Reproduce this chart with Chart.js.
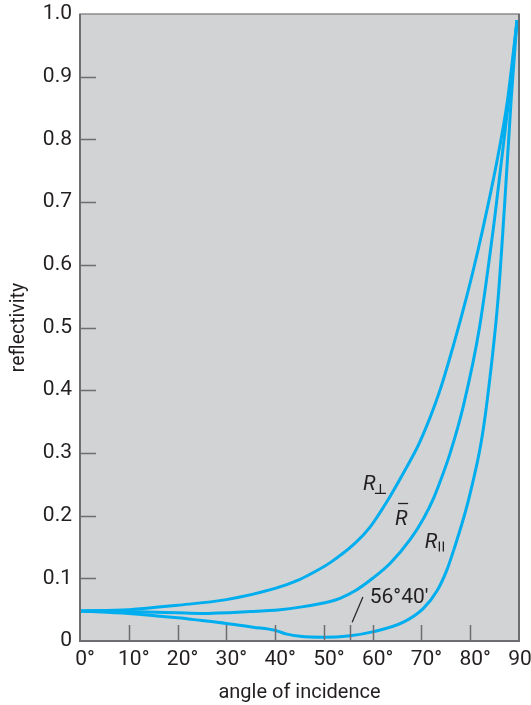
<!DOCTYPE html>
<html>
<head>
<meta charset="utf-8">
<script src="https://cdn.jsdelivr.net/npm/chart.js@4.4.0/dist/chart.umd.min.js"></script>
<style>
  html, body { margin: 0; padding: 0; background: #fff; }
</style>
</head>
<body>
<canvas id="reflChart" width="531" height="705"></canvas>
<script>
// values (angle in degrees, reflectivity 0..1)
const perpAngles = [0, 10, 20, 30, 40, 45, 48.5, 51.3, 56.4, 59.5, 62.9, 66.3, 69.7, 73.8, 76.5, 79.3, 81.5, 83.5, 85.6, 87.6, 89.6];
const perpValues = [0.048, 0.050, 0.057, 0.066, 0.084, 0.098, 0.112, 0.125, 0.156, 0.182, 0.222, 0.268, 0.318, 0.40, 0.47, 0.55, 0.62, 0.69, 0.77, 0.86, 0.99];

const meanAngles = [0, 10, 20, 24.6, 34.9, 41, 45.1, 51.3, 53.3, 56.4, 60, 63.6, 67.7, 70.4, 72.5, 74.2, 75.9, 78.6, 81.9, 85.1, 88.0, 89.6];
const meanValues = [0.048, 0.047, 0.045, 0.044, 0.047, 0.050, 0.054, 0.063, 0.068, 0.080, 0.100, 0.124, 0.162, 0.195, 0.228, 0.262, 0.300, 0.375, 0.50, 0.68, 0.87, 0.99];

const parAngles = [0, 10, 20, 24.6, 30, 35.5, 40, 42.4, 45.1, 49.9, 55.4, 60.2, 66.3, 70.4, 73.2, 75.2, 76.9, 78.6, 80.0, 82.2, 83.5, 85.7, 87.0, 88.4, 89.6];
const parValues = [0.048, 0.044, 0.037, 0.033, 0.028, 0.022, 0.017, 0.011, 0.0075, 0.006, 0.0085, 0.015, 0.030, 0.052, 0.080, 0.113, 0.152, 0.195, 0.236, 0.315, 0.385, 0.545, 0.69, 0.864, 0.99];

const xTickLabels = ['0°', '10°', '20°', '30°', '40°', '50°', '60°', '70°', '80°', '90°'];
const yTickLabels = ['0', '0.1', '0.2', '0.3', '0.4', '0.5', '0.6', '0.7', '0.8', '0.9', '1.0'];
const brewsterTick = 55.4;

const lineBlue = '#00aeef';
const axisGray = '#6d6e71';
const textDark = '#231f20';

function toPoints(xs, ys) {
    return xs.map((x, i) => ({ x: x, y: ys[i] }));
}

// gray plot area, inward ticks, frame and curve labels
const framePlugin = {
    id: 'frame',
    beforeDatasetsDraw(chart) {
        const a = chart.chartArea, ctx = chart.ctx;
        ctx.save();
        ctx.fillStyle = '#d1d3d4';
        ctx.fillRect(a.left, a.top, a.right - a.left, a.bottom - a.top);
        ctx.restore();
    },
    afterDatasetsDraw(chart) {
        const a = chart.chartArea, ctx = chart.ctx;
        const xs = chart.scales.x, ys = chart.scales.y;
        ctx.save();
        ctx.strokeStyle = axisGray;
        ctx.lineWidth = 1.5;
        // inward ticks
        ctx.beginPath();
        for (let i = 1; i < yTickLabels.length - 1; i++) {
            const y = Math.round(ys.getPixelForValue(i / 10)) + 0.5;
            ctx.moveTo(a.left, y);
            ctx.lineTo(a.left + 16, y);
        }
        for (let i = 1; i < xTickLabels.length - 1; i++) {
            const x = Math.round(xs.getPixelForValue(i * 10)) + 0.5;
            ctx.moveTo(x, a.bottom);
            ctx.lineTo(x, a.bottom - 16);
        }
        const bx = Math.round(xs.getPixelForValue(brewsterTick)) + 0.5;
        ctx.moveTo(bx, a.bottom);
        ctx.lineTo(bx, a.bottom - 16);
        ctx.stroke();

        // frame
        ctx.lineWidth = 1.5;
        ctx.strokeStyle = '#8a8b8d';
        ctx.strokeRect(a.left, a.top, a.right - a.left, a.bottom - a.top);
        ctx.lineWidth = 2;
        ctx.strokeStyle = axisGray;
        ctx.beginPath();
        ctx.moveTo(a.left, a.top);
        ctx.lineTo(a.left, a.bottom);
        ctx.lineTo(a.right, a.bottom);
        ctx.lineTo(a.right, a.top);
        ctx.stroke();

        // curve labels
        ctx.fillStyle = textDark;
        ctx.strokeStyle = textDark;
        ctx.textBaseline = 'alphabetic';
        ctx.textAlign = 'left';
        ctx.font = 'italic 21px Roboto';

        // R perpendicular
        let px = xs.getPixelForValue(58.0), py = ys.getPixelForValue(0.241);
        ctx.fillText('R', px, py);
        ctx.lineWidth = 1.3;
        ctx.beginPath();
        ctx.moveTo(px + 12, py + 3.5);
        ctx.lineTo(px + 23, py + 3.5);
        ctx.moveTo(px + 17.5, py + 3.5);
        ctx.lineTo(px + 17.5, py - 6);
        ctx.stroke();

        // R bar
        px = xs.getPixelForValue(64.6); py = ys.getPixelForValue(0.185);
        ctx.fillText('R', px, py);
        ctx.beginPath();
        ctx.moveTo(px + 3, py - 21.5);
        ctx.lineTo(px + 13, py - 21.5);
        ctx.stroke();

        // R parallel
        px = xs.getPixelForValue(70.7); py = ys.getPixelForValue(0.149);
        ctx.fillText('R', px, py);
        ctx.beginPath();
        ctx.moveTo(px + 14.5, py - 6);
        ctx.lineTo(px + 14.5, py + 4);
        ctx.moveTo(px + 18.5, py - 6);
        ctx.lineTo(px + 18.5, py + 4);
        ctx.stroke();

        // Brewster angle note
        ctx.font = '21px Roboto';
        px = xs.getPixelForValue(59.4); py = ys.getPixelForValue(0.060);
        ctx.fillText('56°40′', px, py);
        ctx.lineWidth = 1.2;
        ctx.beginPath();
        ctx.moveTo(xs.getPixelForValue(55.8), ys.getPixelForValue(0.030));
        ctx.lineTo(xs.getPixelForValue(58.0), ys.getPixelForValue(0.070));
        ctx.stroke();
        ctx.restore();
    }
};

function makeSet(label, xs, ys) {
    return {
        label: label,
        data: toPoints(xs, ys),
        borderColor: lineBlue,
        borderWidth: 3,
        pointRadius: 0,
        fill: false,
        cubicInterpolationMode: 'monotone',
        clip: 4
    };
}

const reflChart = new Chart(document.getElementById('reflChart'), {
    type: 'line',
    data: {
        datasets: [
            makeSet('R perp', perpAngles, perpValues),
            makeSet('R mean', meanAngles, meanValues),
            makeSet('R par', parAngles, parValues)
        ]
    },
    options: {
        responsive: false,
        animation: false,
        layout: { padding: { top: 14, right: 12, left: 0, bottom: 0 } },
        plugins: {
            legend: { display: false },
            tooltip: { enabled: false }
        },
        scales: {
            x: {
                type: 'linear',
                min: 0,
                max: 90,
                grid: { display: false, drawTicks: false },
                border: { display: false },
                ticks: {
                    stepSize: 10,
                    padding: 6,
                    labelOffset: 5,
                    maxRotation: 0,
                    autoSkip: false,
                    color: textDark,
                    font: { family: 'Roboto', size: 21 },
                    callback: (v, i) => xTickLabels[i]
                },
                title: {
                    display: true,
                    text: 'angle of incidence',
                    color: textDark,
                    font: { family: 'Roboto', size: 20 },
                    padding: { top: 0, bottom: 0 }
                },
                afterFit(scale) {
                    scale.height = 64;
                    scale.paddingLeft = 0;
                    scale.paddingRight = 0;
                }
            },
            y: {
                min: 0,
                max: 1,
                grid: { display: false, drawTicks: false },
                border: { display: false },
                ticks: {
                    stepSize: 0.1,
                    padding: 8,
                    autoSkip: false,
                    color: textDark,
                    font: { family: 'Roboto', size: 21 },
                    callback: (v, i) => yTickLabels[i]
                },
                title: {
                    display: true,
                    text: 'reflectivity',
                    color: textDark,
                    font: { family: 'Roboto', size: 19.5 },
                    padding: { top: 7, bottom: 0 }
                },
                afterFit(scale) {
                    scale.width = 80;
                    scale.paddingTop = 0;
                    scale.paddingBottom = 0;
                }
            }
        }
    },
    plugins: [framePlugin]
});
</script>
</body>
</html>
